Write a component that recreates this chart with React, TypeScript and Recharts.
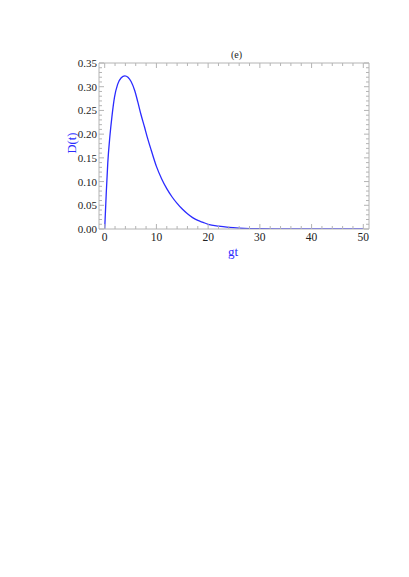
import React from 'react';
import { LineChart, Line, XAxis, YAxis } from 'recharts';

// gt values and D(t)
const gtValues = [0, 0.3, 0.6, 1.0, 1.4, 1.9, 2.5, 3.2, 3.9, 4.5, 5.1, 5.8, 6.4, 7.0, 7.7, 8.3, 9.0, 10, 11, 12, 13, 14, 15, 16, 17, 18, 19, 20, 22, 24, 26, 28, 30, 35, 40, 45, 50];
const dValues = [0, 0.075, 0.14, 0.195, 0.237, 0.278, 0.305, 0.319, 0.323, 0.32, 0.311, 0.292, 0.268, 0.242, 0.215, 0.191, 0.166, 0.132, 0.106, 0.085, 0.068, 0.054, 0.042, 0.032, 0.024, 0.018, 0.014, 0.01, 0.006, 0.0035, 0.002, 0.001, 0.0005, 0.0001, 0, 0, 0];

const xMajorTicks = [0, 10, 20, 30, 40, 50];
const yMajorTicks = [0, 0.05, 0.1, 0.15, 0.2, 0.25, 0.3, 0.35];

const xTicks: number[] = [];
for (let v = 0; v <= 50; v += 2) xTicks.push(v);
const yTicks: number[] = [];
for (let i = 0; i <= 35; i++) yTicks.push(i / 100);

const data = gtValues.map((t, i) => ({ t, d: dValues[i] }));

const W = 409;
const H = 577;
const PL = 99;
const PT = 63;
const PR = 369;
const PB = 229;
const FRAME = '#b4b4b4';
const BLUE = '#2b2bff';
const FONT = '"Liberation Serif", "DejaVu Serif", serif';
const TICK_FS = 11;

const isXMajor = (v: number) => xMajorTicks.includes(v);
const isYMajor = (v: number) => yMajorTicks.some((m) => Math.abs(m - v) < 1e-6);

const BottomTick = (props: any) => {
  const { x, payload } = props;
  const major = isXMajor(payload.value);
  return (
    <g>
      <line x1={x} x2={x} y1={PB} y2={PB - (major ? 5 : 3)} stroke={FRAME} />
      {major && (
        <text x={x} y={PB + 12} textAnchor="middle" style={{ fontFamily: FONT, fontSize: TICK_FS + 0.5 }} fill="#222">
          {payload.value}
        </text>
      )}
    </g>
  );
};

const TopTick = (props: any) => {
  const { x, payload } = props;
  const major = isXMajor(payload.value);
  return <line x1={x} x2={x} y1={PT} y2={PT + (major ? 5 : 3)} stroke={FRAME} />;
};

const LeftTick = (props: any) => {
  const { y, payload } = props;
  const major = isYMajor(payload.value);
  return (
    <g>
      <line x1={PL} x2={PL + (major ? 5 : 3)} y1={y} y2={y} stroke={FRAME} />
      {major && (
        <text x={PL - 2} y={y + 4} textAnchor="end" style={{ fontFamily: FONT, fontSize: TICK_FS }} fill="#222">
          {payload.value.toFixed(2)}
        </text>
      )}
    </g>
  );
};

const RightTick = (props: any) => {
  const { y, payload } = props;
  const major = isYMajor(payload.value);
  return <line x1={PR} x2={PR - (major ? 5 : 3)} y1={y} y2={y} stroke={FRAME} />;
};

export default function App() {
  return (
    <div style={{ position: 'absolute', left: 0, top: 0, width: W, height: H, background: '#fff' }}>
      <LineChart
        width={W}
        height={H}
        data={data}
        margin={{ top: PT - 1, right: W - PR - 1, bottom: H - PB - 30, left: PL - 40 }}
      >
        <XAxis
          dataKey="t"
          type="number"
          domain={[-1.1, 51.1]}
          allowDataOverflow
          ticks={xTicks}
          interval={0}
          tickLine={false}
          axisLine={{ stroke: FRAME }}
          tick={<BottomTick />}
          height={30}
        />
        <XAxis
          xAxisId="top"
          orientation="top"
          dataKey="t"
          type="number"
          domain={[-1.1, 51.1]}
          allowDataOverflow
          ticks={xTicks}
          interval={0}
          tickLine={false}
          axisLine={{ stroke: FRAME }}
          tick={<TopTick />}
          height={1}
        />
        <YAxis
          type="number"
          domain={[0, 0.35]}
          allowDataOverflow
          ticks={yTicks}
          interval={0}
          tickLine={false}
          axisLine={{ stroke: FRAME }}
          tick={<LeftTick />}
          width={40}
        />
        <YAxis
          yAxisId="right"
          orientation="right"
          type="number"
          domain={[0, 0.35]}
          allowDataOverflow
          ticks={yTicks}
          interval={0}
          tickLine={false}
          axisLine={{ stroke: FRAME }}
          tick={<RightTick />}
          width={1}
        />
        <Line
          xAxisId="top"
          yAxisId="right"
          dataKey="d"
          stroke="none"
          dot={false}
          legendType="none"
          isAnimationActive={false}
        />
        <Line
          type="monotone"
          dataKey="d"
          stroke={BLUE}
          strokeWidth={1.3}
          dot={false}
          isAnimationActive={false}
        />
      </LineChart>
      <div style={{ position: 'absolute', left: 231, top: 49, fontFamily: FONT, fontSize: 10, color: '#222' }}>(e)</div>
      <div
        style={{
          position: 'absolute',
          left: 72,
          top: 143,
          transform: 'translate(-50%, -50%) rotate(-90deg)',
          fontFamily: FONT,
          fontSize: 12.5,
          lineHeight: 1,
          color: BLUE,
          whiteSpace: 'nowrap',
        }}
      >
        D(t)
      </div>
      <div style={{ position: 'absolute', left: 233, top: 252, transform: 'translate(-50%, -50%)', fontFamily: FONT, fontSize: 13, color: BLUE }}>
        gt
      </div>
    </div>
  );
}
